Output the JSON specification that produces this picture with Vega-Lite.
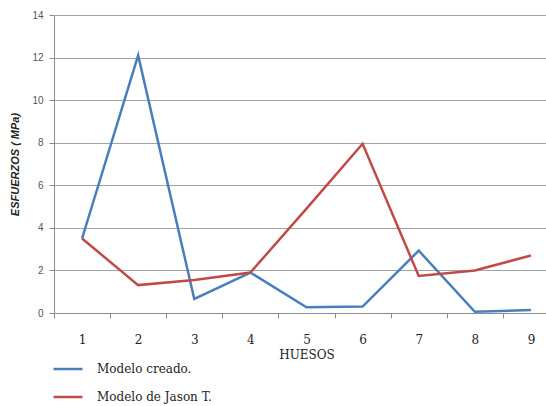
{
  "$schema": "https://vega.github.io/schema/vega-lite/v6.json",
  "width": 505,
  "height": 298,
  "autosize": {"type": "none"},
  "padding": {"left": 54, "top": 15, "right": 0, "bottom": 93},
  "background": "white",
  "data": {"values": [
    {"hueso": "1", "serie": "Modelo creado.", "valor": 3.5},
    {"hueso": "2", "serie": "Modelo creado.", "valor": 12.1},
    {"hueso": "3", "serie": "Modelo creado.", "valor": 0.66},
    {"hueso": "4", "serie": "Modelo creado.", "valor": 1.9},
    {"hueso": "5", "serie": "Modelo creado.", "valor": 0.27},
    {"hueso": "6", "serie": "Modelo creado.", "valor": 0.3},
    {"hueso": "7", "serie": "Modelo creado.", "valor": 2.93},
    {"hueso": "8", "serie": "Modelo creado.", "valor": 0.06},
    {"hueso": "9", "serie": "Modelo creado.", "valor": 0.14},
    {"hueso": "1", "serie": "Modelo de Jason T.", "valor": 3.5},
    {"hueso": "2", "serie": "Modelo de Jason T.", "valor": 1.31},
    {"hueso": "3", "serie": "Modelo de Jason T.", "valor": 1.55},
    {"hueso": "4", "serie": "Modelo de Jason T.", "valor": 1.9},
    {"hueso": "5", "serie": "Modelo de Jason T.", "valor": 4.9},
    {"hueso": "6", "serie": "Modelo de Jason T.", "valor": 7.95},
    {"hueso": "7", "serie": "Modelo de Jason T.", "valor": 1.74},
    {"hueso": "8", "serie": "Modelo de Jason T.", "valor": 2.0},
    {"hueso": "9", "serie": "Modelo de Jason T.", "valor": 2.7}
  ]},
  "mark": {"type": "line", "strokeWidth": 2.5},
  "encoding": {
    "x": {
      "field": "hueso", "type": "ordinal", "bandPosition": 0.5,
      "scale": {"type": "band", "paddingInner": 0, "paddingOuter": 0},
      "axis": {
        "title": "HUESOS", "labelAngle": 0, "tickBand": "extent",
        "domainColor": "#8c8c8c", "tickColor": "#8c8c8c", "tickSize": 5,
        "labelFont": "DejaVu Serif", "labelFontSize": 12, "labelColor": "#222",
        "labelPadding": 16,
        "titleFont": "DejaVu Serif", "titleFontSize": 12, "titleFontWeight": "normal",
        "titleColor": "#222", "titlePadding": 4, "grid": false
      }
    },
    "y": {
      "field": "valor", "type": "quantitative",
      "scale": {"domain": [0, 14]},
      "axis": {
        "title": "ESFUERZOS ( MPa)", "values": [0, 2, 4, 6, 8, 10, 12, 14],
        "domainColor": "#8c8c8c", "tickColor": "#8c8c8c", "tickSize": 5,
        "gridColor": "#8c8c8c", "gridOpacity": 0.8,
        "labelFont": "Liberation Sans", "labelFontSize": 10, "labelColor": "#555",
        "labelPadding": 6,
        "titleFont": "Liberation Sans", "titleFontSize": 11, "titleFontWeight": "bold",
        "titleFontStyle": "italic", "titleColor": "#222", "titlePadding": 11
      }
    },
    "color": {
      "field": "serie", "type": "nominal",
      "scale": {"domain": ["Modelo creado.", "Modelo de Jason T."], "range": ["#4a7ebb", "#be4b48"]},
      "legend": {
        "title": null, "orient": "none", "legendX": -2, "legendY": 338,
        "symbolType": "stroke", "symbolSize": 841, "symbolStrokeWidth": 2.5,
        "labelFont": "DejaVu Serif", "labelFontSize": 12, "labelColor": "#222",
        "labelOffset": 13, "rowPadding": 6
      }
    }
  },
  "config": {"view": {"stroke": null}}
}
